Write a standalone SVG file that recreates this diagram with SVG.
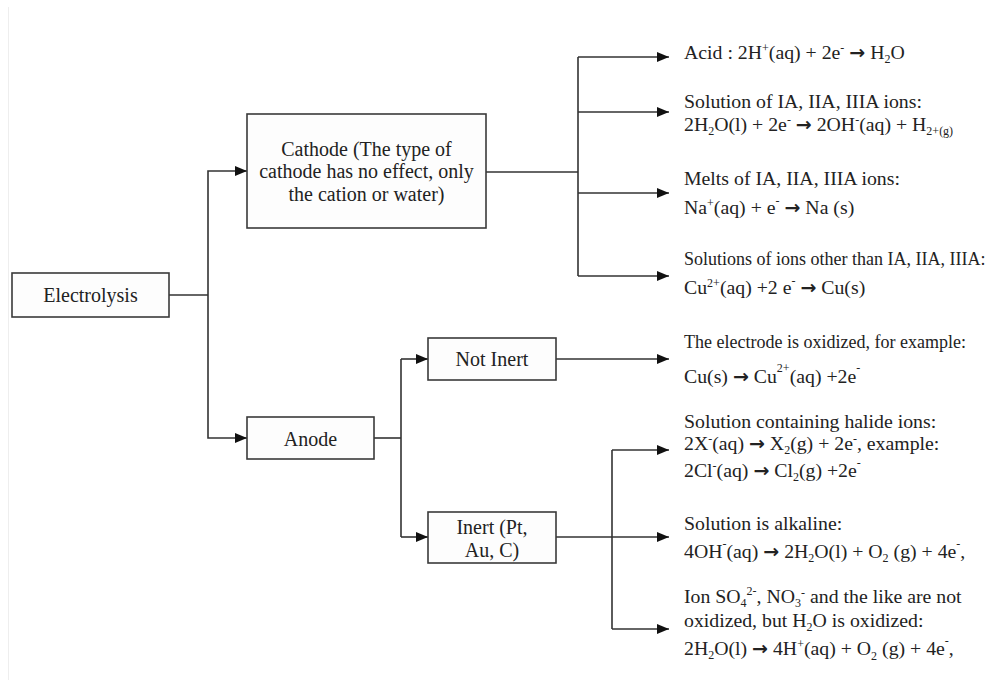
<svg xmlns="http://www.w3.org/2000/svg" width="1003" height="680" viewBox="0 0 1003 680">
<defs>
<marker id="arr" viewBox="0 0 12 10" refX="12" refY="5" markerWidth="12" markerHeight="10" markerUnits="userSpaceOnUse" orient="auto">
<path d="M0,0 L12,5 L0,10 z" fill="#111"/>
</marker>
<style>
.box{fill:#fdfdfd;stroke:#3a3a3a;stroke-width:1.6}
.ln{fill:none;stroke:#333;stroke-width:1.6}
.ar{fill:none;stroke:#333;stroke-width:1.6;marker-end:url(#arr)}
text{font-family:"Liberation Serif","Times New Roman",serif;fill:#222}
.n{font-size:20px;text-anchor:middle}
.t{font-size:19.8px}
.s{font-size:18px}
.sp{font-size:12px}
.a{font-family:"DejaVu Sans",sans-serif;font-size:19px;font-weight:bold}
</style>
</defs>
<rect width="1003" height="680" fill="#ffffff"/>
<line x1="8.5" y1="7" x2="8.5" y2="680" stroke="#eeeeee" stroke-width="1"/>

<g id="connectors">
<path class="ln" d="M169,295 H208"/>
<path class="ar" d="M208,295 V171 H247"/>
<path class="ar" d="M208,295 V438 H247"/>
<path class="ln" d="M486,172 H578"/>
<path class="ln" d="M578,57 V276"/>
<path class="ar" d="M578,57 H669"/>
<path class="ar" d="M578,112 H669"/>
<path class="ar" d="M578,193 H669"/>
<path class="ar" d="M578,276 H669"/>
<path class="ln" d="M374,438 H401"/>
<path class="ln" d="M401,359 V537"/>
<path class="ar" d="M401,359 H428"/>
<path class="ar" d="M401,537 H428"/>
<path class="ar" d="M556,359 H669"/>
<path class="ln" d="M556,537 H612"/>
<path class="ln" d="M612,450 V629"/>
<path class="ar" d="M612,450 H669"/>
<path class="ar" d="M612,537 H669"/>
<path class="ar" d="M612,629 H669"/>
</g>

<g id="electrolysis">
<rect class="box" x="12" y="273" width="157" height="44"/>
<text class="n" x="90.5" y="302">Electrolysis</text>
</g>

<g id="cathode">
<rect class="box" x="247" y="114" width="239" height="114"/>
<text class="n" x="366.5" y="156">Cathode (The type of</text>
<text class="n" x="366.5" y="178">cathode has no effect, only</text>
<text class="n" x="366.5" y="201">the cation or water)</text>
</g>

<g id="anode">
<rect class="box" x="247" y="417" width="127" height="42"/>
<text class="n" x="310.5" y="446">Anode</text>
</g>

<g id="not-inert">
<rect class="box" x="428" y="338" width="128" height="42"/>
<text class="n" x="492" y="366">Not Inert</text>
</g>

<g id="inert">
<rect class="box" x="428" y="512" width="128" height="51"/>
<text class="n" x="492" y="534">Inert (Pt,</text>
<text class="n" x="492" y="557">Au, C)</text>
</g>

<g id="acid">
<text class="t" x="684" y="59">Acid : 2H<tspan class="sp" dy="-7">+</tspan><tspan dy="7">(aq) + 2e</tspan><tspan class="sp" dy="-7">-</tspan><tspan dy="7"> </tspan><tspan class="a">→</tspan> H<tspan class="sp" dy="4">2</tspan><tspan dy="-4">O</tspan></text>
</g>

<g id="solution-ia">
<text class="t" x="684" y="108">Solution of IA, IIA, IIIA ions:</text>
<text class="t" x="684" y="131">2H<tspan class="sp" dy="4">2</tspan><tspan dy="-4">O(l) + 2e</tspan><tspan class="sp" dy="-7">-</tspan><tspan dy="7"> </tspan><tspan class="a">→</tspan> 2OH<tspan class="sp" dy="-7">-</tspan><tspan dy="7">(aq) + H</tspan><tspan class="sp" dy="4">2+(g)</tspan></text>
</g>

<g id="melts">
<text class="t" x="684" y="185">Melts of IA, IIA, IIIA ions:</text>
<text class="t" x="684" y="214">Na<tspan class="sp" dy="-7">+</tspan><tspan dy="7">(aq) + e</tspan><tspan class="sp" dy="-9">-</tspan><tspan dy="9"> </tspan><tspan class="a">→</tspan> Na (s)</text>
</g>

<g id="other-ions">
<text class="s" x="684" y="265">Solutions of ions other than IA, IIA, IIIA:</text>
<text class="t" x="684" y="294">Cu<tspan class="sp" dy="-7">2+</tspan><tspan dy="7">(aq) +2 e</tspan><tspan class="sp" dy="-9">-</tspan><tspan dy="9"> </tspan><tspan class="a">→</tspan> Cu(s)</text>
</g>

<g id="electrode-oxidized">
<text class="s" x="684" y="348">The electrode is oxidized, for example:</text>
<text class="t" x="684" y="383">Cu(s) <tspan class="a">→</tspan> Cu<tspan class="sp" dy="-11">2+</tspan><tspan dy="11">(aq) +2e</tspan><tspan class="sp" dy="-11">-</tspan></text>
</g>

<g id="halide">
<text class="t" x="684" y="428">Solution containing halide ions:</text>
<text class="t" x="684" y="450">2X<tspan class="sp" dy="-7">-</tspan><tspan dy="7">(aq) </tspan><tspan class="a">→</tspan> X<tspan class="sp" dy="4">2</tspan><tspan dy="-4">(g) + 2e</tspan><tspan class="sp" dy="-7">-</tspan><tspan dy="7">, example:</tspan></text>
<text class="t" x="684" y="477">2Cl<tspan class="sp" dy="-7">-</tspan><tspan dy="7">(aq) </tspan><tspan class="a">→</tspan> Cl<tspan class="sp" dy="4">2</tspan><tspan dy="-4">(g) +2e</tspan><tspan class="sp" dy="-10">-</tspan></text>
</g>

<g id="alkaline">
<text class="t" x="684" y="530">Solution is alkaline:</text>
<text class="t" x="684" y="558">4OH<tspan class="sp" dy="-10">-</tspan><tspan dy="10">(aq) </tspan><tspan class="a">→</tspan> 2H<tspan class="sp" dy="4">2</tspan><tspan dy="-4">O(l) + O</tspan><tspan class="sp" dy="4">2</tspan><tspan dy="-4"> (g) + 4e</tspan><tspan class="sp" dy="-10">-</tspan><tspan dy="10">,</tspan></text>
</g>

<g id="sulfate">
<text class="t" x="684" y="603">Ion SO<tspan class="sp" dy="4">4</tspan><tspan class="sp" dy="-12">2-</tspan><tspan dy="8">, NO</tspan><tspan class="sp" dy="4">3</tspan><tspan class="sp" dy="-10">-</tspan><tspan dy="6"> and the like are not</tspan></text>
<text class="t" x="684" y="627">oxidized, but H<tspan class="sp" dy="4">2</tspan><tspan dy="-4">O is oxidized:</tspan></text>
<text class="t" x="684" y="655">2H<tspan class="sp" dy="4">2</tspan><tspan dy="-4">O(l) </tspan><tspan class="a">→</tspan> 4H<tspan class="sp" dy="-7">+</tspan><tspan dy="7">(aq) + O</tspan><tspan class="sp" dy="5">2</tspan><tspan dy="-5"> (g) + 4e</tspan><tspan class="sp" dy="-10">-</tspan><tspan dy="10">,</tspan></text>
</g>
</svg>
